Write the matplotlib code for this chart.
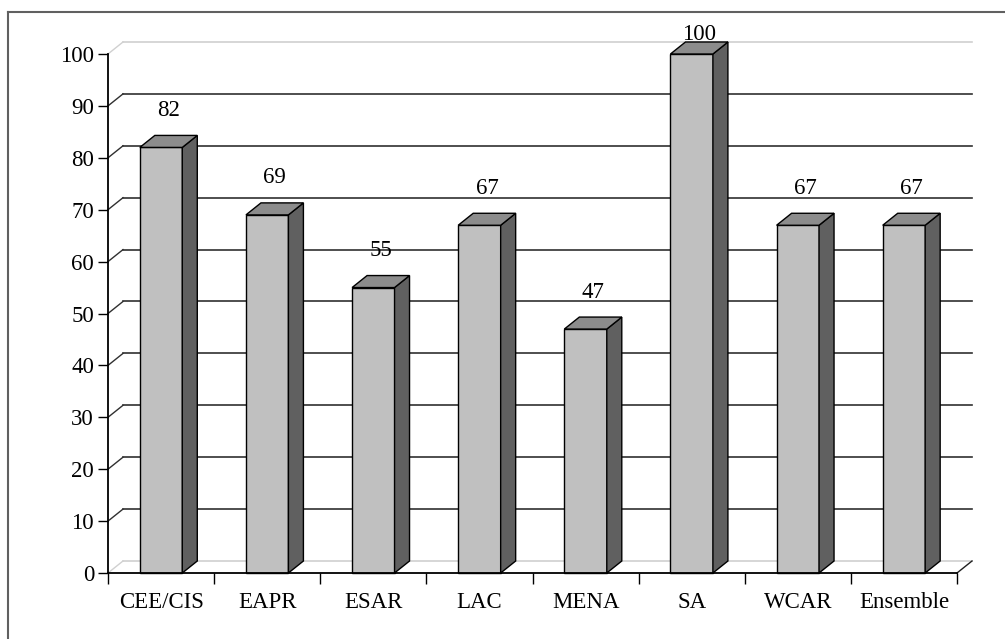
import matplotlib
matplotlib.use("Agg")
from matplotlib import pyplot as plt
from matplotlib.patches import Polygon
from matplotlib.lines import Line2D

regions = ["CEE/CIS", "EAPR", "ESAR", "LAC", "MENA", "SA", "WCAR", "Ensemble"]
values = [82, 69, 55, 67, 47, 100, 67, 67]
y_ticks = [0, 10, 20, 30, 40, 50, 60, 70, 80, 90, 100]

plt.rcParams['font.family'] = ['Liberation Serif', 'DejaVu Serif']

W, H = 1005, 639
fig = plt.figure(figsize=(W / 100, H / 100), dpi=100)

# front plane of the plot: x from 108 to 957 px, y from 573 (0) to 54 (100)
ax = fig.add_axes([108 / W, (H - 573) / H, 849 / W, 519 / H])
n = len(regions)
ax.set_xlim(-0.5, n - 0.5)
ax.set_ylim(0, 100)

# depth offset of the pseudo 3D effect, in data units
dx = 15 / 849 * n
dy = 12 / 519 * 100
bw = 0.40
fs = 16.5

# back wall gridlines and left wall diagonals
for t in y_ticks:
    col = '#d0d0d0' if t in (0, 100) else '#303030'
    ax.plot([-0.5 + dx, n - 0.5 + dx], [t + dy, t + dy], color=col,
            lw=1.2, zorder=1, clip_on=False)
    ax.plot([-0.5, -0.5 + dx], [t, t + dy], color=col, lw=1.0,
            zorder=1, clip_on=False)

# right edge of the floor
ax.plot([n - 0.5, n - 0.5 + dx], [0, dy], color='#202020', lw=1.0,
        zorder=1, clip_on=False)

# bars: front face, top face and right side face
for i, v in enumerate(values):
    x0, x1 = i - bw / 2, i + bw / 2
    front = Polygon([(x0, 0), (x1, 0), (x1, v), (x0, v)], closed=True,
                    facecolor='#c0c0c0', edgecolor='black', lw=1.0, zorder=3,
                    clip_on=False)
    top = Polygon([(x0, v), (x1, v), (x1 + dx, v + dy), (x0 + dx, v + dy)],
                  closed=True, facecolor='#8c8c8c', edgecolor='black', lw=1.0,
                  zorder=3, clip_on=False)
    side = Polygon([(x1, 0), (x1 + dx, dy), (x1 + dx, v + dy), (x1, v)],
                   closed=True, facecolor='#606060', edgecolor='black', lw=1.0,
                   zorder=3, clip_on=False)
    for p in (front, side, top):
        ax.add_patch(p)
    ly = min(v + dy + 4.8, 103.7)
    ax.text(i + dx / 2, ly, str(v), ha='center', va='center', fontsize=fs,
            zorder=4, clip_on=False)

# axes: left and bottom spines with ticks
for s in ('top', 'right'):
    ax.spines[s].set_visible(False)
for s in ('left', 'bottom'):
    ax.spines[s].set_linewidth(1.3)
    ax.spines[s].set_zorder(5)
ax.set_facecolor('none')
ax.set_yticks(y_ticks)
ax.tick_params(axis='y', length=7, width=1.0, labelsize=fs, pad=3)
ax.set_xticks([i - 0.5 for i in range(n + 1)])
ax.set_xticklabels([])
ax.tick_params(axis='x', which='major', length=8, width=1.0)
ax.set_xticks(range(n), minor=True)
ax.set_xticklabels(regions, minor=True)
ax.tick_params(axis='x', which='minor', length=0, labelsize=fs, pad=14)

# outer frame (left and top edges)
fig.add_artist(Line2D([8 / W, 8 / W], [0, 1 - 12 / H], color='#606060',
                      lw=1.5, transform=fig.transFigure))
fig.add_artist(Line2D([8 / W, 1], [1 - 12 / H, 1 - 12 / H], color='#606060',
                      lw=1.5, transform=fig.transFigure))

fig.savefig('out.png', dpi=100)
